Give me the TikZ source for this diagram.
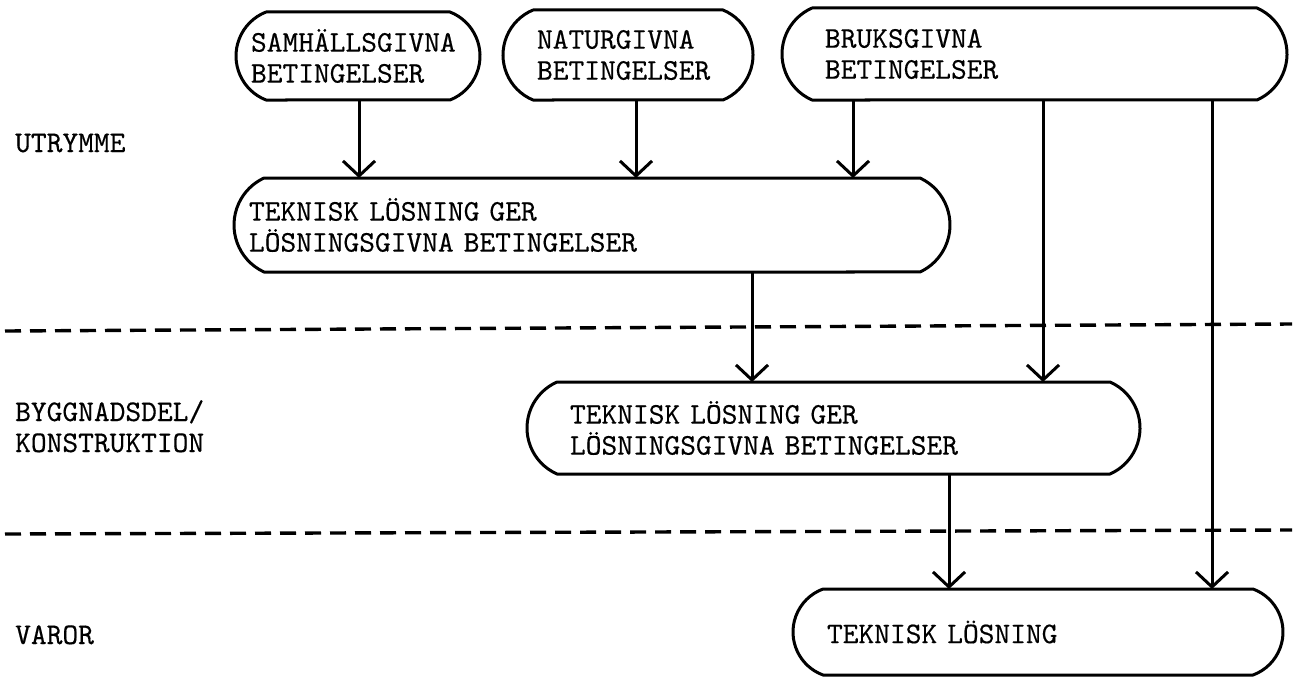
\documentclass[tikz,border=0pt]{standalone}
\usepackage{fontspec}
\usetikzlibrary{calc,arrows.meta}

% typewriter face, slightly heavier
\newfontfamily\typewriter{lmmono10-regular}[Extension=.otf, FakeBold=0.4]

% horizontal bulge of the rounded ends of each box
\def\sagitta{30}

% outline of a box with arc-shaped ends: #1 node name, #2 node height
\newcommand\capsuleoutline[2]{%
  \pgfmathsetmacro\capR{((#2)*(#2)/4+\sagitta*\sagitta)/(2*\sagitta)}%
  \pgfmathsetmacro\capA{asin((#2)/2/\capR)}%
  \draw[boxline] ([xshift=\sagitta pt]#1.north west) -- ([xshift=-\sagitta pt]#1.north east)
    arc[start angle=\capA, end angle=-\capA, radius=\capR]
    -- ([xshift=\sagitta pt]#1.south west)
    arc[start angle=180+\capA, end angle=180-\capA, radius=\capR] -- cycle;}

\begin{document}
\begin{tikzpicture}[x=1pt, y=1pt,
  typed/.style={font=\typewriter\fontsize{30}{31}\selectfont},
  boxline/.style={line width=3pt, line join=round},
  capsule/.style={typed, draw=none, rectangle, outer sep=0pt, inner ysep=0pt, align=left},
  conn/.style={line width=3pt, -{Straight Barb[length=15pt, width=32pt]}},
  divider/.style={line width=3.4pt, dash pattern=on 16pt off 9pt},
  tier/.style={typed, anchor=base west, align=left, inner sep=0pt}
]
\useasboundingbox (0,0) rectangle (1295,-677);

% condition boxes along the top
\node[capsule, minimum width=244pt, minimum height=88pt, inner xsep=15pt, text width=214pt]
  (sam) at (358,-56) {SAMHÄLLSGIVNA\\BETINGELSER};
\node[capsule, minimum width=250pt, minimum height=90pt, inner xsep=34pt, text width=182pt]
  (nat) at (628,-55) {NATURGIVNA\\BETINGELSER};
\node[capsule, minimum width=505pt, minimum height=92pt, inner xsep=43pt, text width=419pt]
  (bruk) at (1034.5,-54) {BRUKSGIVNA\\BETINGELSER};

% solution boxes on each level
\node[capsule, minimum width=716pt, minimum height=94pt, inner xsep=15pt, text width=686pt]
  (rum) at (592,-225) {TEKNISK LÖSNING GER\\LÖSNINGSGIVNA BETINGELSER};
\node[capsule, minimum width=613pt, minimum height=92pt, inner xsep=43pt, text width=527pt]
  (del) at (833.5,-428) {TEKNISK LÖSNING GER\\LÖSNINGSGIVNA BETINGELSER};
\node[capsule, minimum width=490pt, minimum height=86pt, inner xsep=34pt, text width=422pt]
  (vara) at (1038,-632) {TEKNISK LÖSNING};

\capsuleoutline{sam}{88}
\capsuleoutline{nat}{90}
\capsuleoutline{bruk}{92}
\capsuleoutline{rum}{94}
\capsuleoutline{del}{92}
\capsuleoutline{vara}{86}

% level names (base anchor sits on the last line)
\node[tier] (utr) at (15,-152) {UTRYMME};
\node[tier] (byg) at (15,-452) {BYGGNADSDEL/\\KONSTRUKTION};
\node[tier] (var) at (15,-644) {VAROR};

% level boundaries
\coordinate (d1a) at (5,-331);
\coordinate (d1b) at (1292,-324);
\coordinate (d2a) at (5,-534);
\coordinate (d2b) at (1292,-530);
\draw[divider] (d1a) -- (d1b);
\draw[divider] (d2a) -- (d2b);

% x positions of the connectors
\coordinate (xa) at (359,0);
\coordinate (xb) at (636,0);
\coordinate (xc) at (853,0);
\coordinate (xd) at (1043,0);
\coordinate (xe) at (1212,0);
\coordinate (xf) at (752,0);
\coordinate (xg) at (949,0);

\draw[conn] (sam.south -| xa) -- (rum.north -| xa);
\draw[conn] (nat.south -| xb) -- (rum.north -| xb);
\draw[conn] (bruk.south -| xc) -- (rum.north -| xc);
\draw[conn] (bruk.south -| xd) -- (del.north -| xd);
\draw[conn] (bruk.south -| xe) -- (vara.north -| xe);
\draw[conn] (rum.south -| xf) -- (del.north -| xf);
\draw[conn] (del.south -| xg) -- (vara.north -| xg);
\end{tikzpicture}
\end{document}
